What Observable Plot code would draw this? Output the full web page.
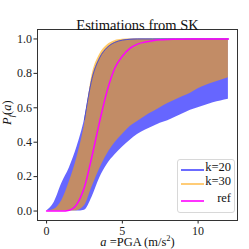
<!DOCTYPE html>
<html><head><meta charset="utf-8">
<script src="https://cdn.jsdelivr.net/npm/d3@7"></script>
<script src="https://cdn.jsdelivr.net/npm/@observablehq/plot@0.6"></script>
<style>
body{margin:0;background:#fff;}
#wrap{position:relative;width:249px;height:249px;font-family:"Liberation Serif",serif;}
#legend{position:absolute;left:177px;top:159px;width:58px;height:54px;border:1px solid #d8d8d8;border-radius:3px;background:rgba(255,255,255,0.85);box-sizing:border-box;}
.item{position:absolute;left:3px;right:3px;height:12px;font-size:12.5px;color:#111;}
.item span.ln{position:absolute;left:0;top:5px;width:23px;height:0;border-top:2px solid;}
.item span.tx{position:absolute;right:0;top:-4px;}
</style></head>
<body><div id="wrap"><div id="legend"></div></div>
<script>
const pga      = [0,0.5,1,1.5,2,2.5,3,3.5,4,4.5,5,5.5,6,6.5,7,7.5,8,8.5,9,9.5,10,10.5,11,11.5,12];
const k20Upper = [0,0.05,0.16,0.25,0.37,0.53,0.77,0.89,0.95,0.98,0.993,0.998,1,1,1,1,1,1,1,1,1,1,1,1,1];
const k20Lower = [0,0,0,0,0,0.005,0.08,0.19,0.27,0.325,0.37,0.41,0.445,0.47,0.49,0.51,0.525,0.545,0.565,0.585,0.60,0.615,0.63,0.64,0.65];
const k30Upper = [0,0.01,0.06,0.17,0.31,0.50,0.79,0.91,0.965,0.99,0.998,1,1,1,1,1,1,1,1,1,1,1,1,1,1];
const k30Lower = [0,0,0,0,0.002,0.03,0.14,0.245,0.33,0.395,0.445,0.49,0.52,0.55,0.575,0.60,0.625,0.645,0.665,0.685,0.71,0.73,0.745,0.76,0.775];
const refCurve = [0,0,0,0.005,0.04,0.14,0.32,0.52,0.70,0.83,0.90,0.945,0.97,0.982,0.99,0.995,0.997,0.998,0.999,1,1,1,1,1,1];
const xTicks = [0,5,10];
const yTicks = [0,0.2,0.4,0.6,0.8,1.0];
const titleText = "Estimations from SK";
const legendKeys = ["k=20","k=30","ref"];
const legendColors = ["#6b6bff","#ffcc77","#ff33ff"];

const rows = pga.map((a,i)=>({a, bl:k20Lower[i], bu:k20Upper[i], ol:k30Lower[i], ou:k30Upper[i], ref:refCurve[i]}));

const chart = Plot.plot({
  width:249, height:249,
  marginLeft:37, marginRight:12, marginTop:29, marginBottom:29,
  style:{fontFamily:"Liberation Serif", fontSize:"12px", color:"#222", background:"white"},
  x:{domain:[-0.6,12.6], ticks:xTicks, tickSize:3.5, tickPadding:2, label:null},
  y:{domain:[-0.055,1.055], ticks:yTicks, tickFormat:".1f", tickSize:3.5, tickPadding:2, label:null},
  marks:[
    Plot.areaY(rows,{x:"a", y1:"bl", y2:"bu", fill:"#0000ff", fillOpacity:0.6, curve:"monotone-x"}),
    Plot.areaY(rows,{x:"a", y1:"ol", y2:"ou", fill:"orange", fillOpacity:0.6, curve:"monotone-x"}),
    Plot.lineY(rows.filter(d=>d.a>=2.5),{x:"a", y:"bu", stroke:"#5252c8", strokeWidth:1, curve:"monotone-x"}),
    Plot.lineY(rows,{x:"a", y:"ref", stroke:"#ff00ff", strokeWidth:1.5, curve:"monotone-x"}),
    Plot.frame({stroke:"#333", strokeWidth:1}),
    Plot.text([titleText],{frameAnchor:"top", dy:-10, fontSize:14.5, fill:"#111"}),
    Plot.text(["xlabel"],{frameAnchor:"bottom", dy:25.5, fontSize:12.5, fill:"#111", className:"xlab"}),
    Plot.text(["ylabel"],{frameAnchor:"left", dx:-31, rotate:-90, fontSize:12.5, fill:"#111", className:"ylab"})
  ]
});
document.getElementById("wrap").prepend(chart);

const xl = d3.select(chart).select("g.xlab text");
xl.text(null);
xl.append("tspan").attr("font-style","italic").text("a");
xl.append("tspan").text(" =PGA (m/s");
xl.append("tspan").attr("font-size","8.5px").attr("dy","-5").text("2");
xl.append("tspan").attr("dy","5").text(")");
const yl = d3.select(chart).select("g.ylab text");
yl.text(null);
yl.append("tspan").attr("font-style","italic").text("P");
yl.append("tspan").attr("font-style","italic").attr("font-size","8.5px").attr("dy","3").text("f");
yl.append("tspan").attr("dy","-3").text("(");
yl.append("tspan").attr("font-style","italic").text("a");
yl.append("tspan").text(")");

const lg = document.getElementById("legend");
const tops = [4,18,35];
legendKeys.forEach((k,i)=>{
  const it = document.createElement("div");
  it.className="item"; it.style.top = tops[i]+"px";
  it.innerHTML = `<span class="ln" style="border-color:${legendColors[i]}"></span><span class="tx">${k}</span>`;
  lg.appendChild(it);
});
</script></body></html>
